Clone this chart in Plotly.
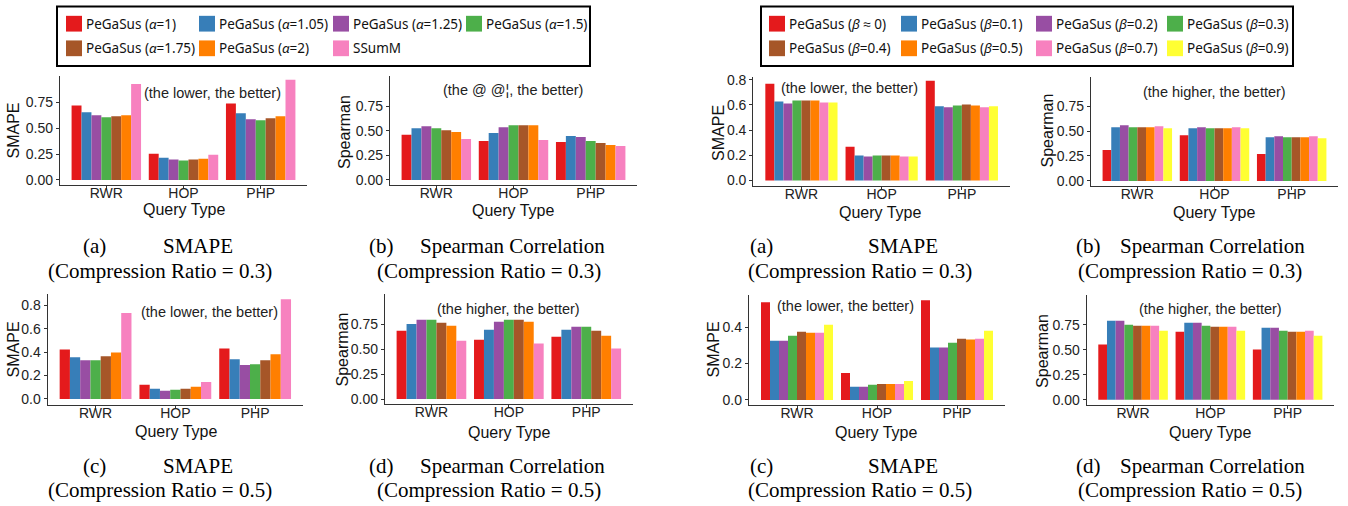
import plotly.graph_objects as go

W, H = 1348, 506

categories = ["RWR", "HOP", "PHP"]

# colours (ColorBrewer Set1)
alpha_colors = ["#E41A1C", "#377EB8", "#984EA3", "#4DAF4A", "#A65628", "#FF7F00", "#F781BF"]
beta_colors = ["#E41A1C", "#377EB8", "#984EA3", "#4DAF4A", "#A65628", "#FF7F00", "#F781BF", "#FFFF33"]

alpha_names = ["PeGaSus (<i>α</i>=1)", "PeGaSus (<i>α</i>=1.05)", "PeGaSus (<i>α</i>=1.25)",
               "PeGaSus (<i>α</i>=1.5)", "PeGaSus (<i>α</i>=1.75)", "PeGaSus (<i>α</i>=2)", "SSumM"]
beta_names = ["PeGaSus (<i>β</i> ≈ 0)", "PeGaSus (<i>β</i>=0.1)", "PeGaSus (<i>β</i>=0.2)",
              "PeGaSus (<i>β</i>=0.3)", "PeGaSus (<i>β</i>=0.4)", "PeGaSus (<i>β</i>=0.5)",
              "PeGaSus (<i>β</i>=0.7)", "PeGaSus (<i>β</i>=0.9)"]

# values per series, each [RWR, HOP, PHP]
smape_alpha_03 = [[0.72, 0.254, 0.74], [0.655, 0.216, 0.645], [0.626, 0.197, 0.588],
                  [0.607, 0.188, 0.578], [0.617, 0.197, 0.598], [0.626, 0.206, 0.617],
                  [0.93, 0.245, 0.97]]
spear_alpha_03 = [[0.458, 0.395, 0.385], [0.525, 0.475, 0.445], [0.545, 0.535, 0.435],
                  [0.525, 0.555, 0.395], [0.505, 0.555, 0.375], [0.485, 0.555, 0.355],
                  [0.415, 0.405, 0.345]]
smape_alpha_05 = [[0.424, 0.121, 0.432], [0.357, 0.087, 0.34], [0.331, 0.07, 0.29],
                  [0.331, 0.079, 0.298], [0.365, 0.087, 0.331], [0.398, 0.104, 0.382],
                  [0.735, 0.146, 0.853]]
spear_alpha_05 = [[0.687, 0.598, 0.627], [0.756, 0.697, 0.697], [0.797, 0.777, 0.727],
                  [0.797, 0.797, 0.727], [0.767, 0.797, 0.687], [0.737, 0.777, 0.637],
                  [0.588, 0.558, 0.508]]
smape_beta_03 = [[0.769, 0.268, 0.792], [0.627, 0.198, 0.589], [0.612, 0.19, 0.581],
                 [0.635, 0.198, 0.596], [0.635, 0.198, 0.604], [0.635, 0.198, 0.596],
                 [0.62, 0.19, 0.581], [0.62, 0.19, 0.589]]
spear_beta_03 = [[0.31, 0.458, 0.271], [0.538, 0.528, 0.439], [0.558, 0.538, 0.449],
                 [0.538, 0.528, 0.439], [0.538, 0.528, 0.439], [0.538, 0.528, 0.439],
                 [0.548, 0.538, 0.449], [0.528, 0.528, 0.429]]
smape_beta_05 = [[0.537, 0.148, 0.548], [0.326, 0.072, 0.288], [0.326, 0.072, 0.288],
                 [0.353, 0.083, 0.315], [0.375, 0.088, 0.337], [0.37, 0.088, 0.332],
                 [0.37, 0.088, 0.337], [0.413, 0.104, 0.38]]
spear_beta_05 = [[0.553, 0.68, 0.504], [0.79, 0.77, 0.72], [0.79, 0.77, 0.72],
                 [0.75, 0.74, 0.69], [0.74, 0.73, 0.68], [0.74, 0.73, 0.68],
                 [0.74, 0.73, 0.69], [0.69, 0.69, 0.64]]

hint_lower = "(the lower, the better)"
hint_higher = "(the higher, the better)"
hint_garbled = "(the @ @¦, the better)"

SANS = "Liberation Sans, Arial, sans-serif"
SERIF = "Liberation Serif, Times New Roman, serif"
LEG = "Noto Sans, sans-serif"


def px(x):
    return x / W


def py(y):
    return 1 - y / H


panels = [
    dict(data=smape_alpha_03, colors=alpha_colors, box=(60, 307, 72, 183), yr=[-0.05, 1.008],
         ticks=[0, 0.25, 0.5, 0.75], fmt="{:.2f}", yt="SMAPE", ytp=(13.5, 128), xtp=(184, 207),
         hint=hint_lower, hp=(213, 89)),
    dict(data=spear_alpha_03, colors=alpha_colors, box=(390, 637, 72, 183), yr=[-0.053, 1.056],
         ticks=[0, 0.25, 0.5, 0.75], fmt="{:.2f}", yt="Spearman", ytp=(345, 129), xtp=(513.5, 208),
         hint=hint_garbled, hp=(513, 86)),
    dict(data=smape_alpha_05, colors=alpha_colors, box=(47.7, 303, 294, 406), yr=[-0.048, 0.895],
         ticks=[0, 0.2, 0.4, 0.6, 0.8], fmt="{:.1f}", yt="SMAPE", ytp=(13, 350), xtp=(176, 432),
         hint=hint_lower, hp=(209, 312)),
    dict(data=spear_alpha_05, colors=alpha_colors, box=(385, 632.7, 294, 405.7), yr=[-0.053, 1.054],
         ticks=[0, 0.25, 0.5, 0.75], fmt="{:.2f}", yt="Spearman", ytp=(342, 350), xtp=(509, 433),
         hint=hint_higher, hp=(508, 309)),
    dict(data=smape_beta_03, colors=beta_colors, box=(753.3, 1010, 73.3, 184), yr=[-0.045, 0.821],
         ticks=[0, 0.2, 0.4, 0.6, 0.8], fmt="{:.1f}", yt="SMAPE", ytp=(719, 130), xtp=(881, 210),
         hint=hint_lower, hp=(850, 84)),
    dict(data=spear_beta_03, colors=beta_colors, box=(1091, 1338, 72.7, 184), yr=[-0.052, 1.047],
         ticks=[0, 0.25, 0.5, 0.75], fmt="{:.2f}", yt="Spearman", ytp=(1047.5, 128), xtp=(1214, 210),
         hint=hint_higher, hp=(1214.5, 88)),
    dict(data=smape_beta_05, colors=beta_colors, box=(749, 1005, 295, 406.3), yr=[-0.027, 0.575],
         ticks=[0, 0.2, 0.4], fmt="{:.1f}", yt="SMAPE", ytp=(713, 350), xtp=(876.5, 433),
         hint=hint_lower, hp=(845, 306)),
    dict(data=spear_beta_05, colors=beta_colors, box=(1086.7, 1334, 295, 406.3), yr=[-0.05, 1.044],
         ticks=[0, 0.25, 0.5, 0.75], fmt="{:.2f}", yt="Spearman", ytp=(1042.5, 352), xtp=(1210, 433),
         hint=hint_higher, hp=(1210, 309)),
]

fig = go.Figure()
layout = dict(
    width=W, height=H, margin=dict(l=0, r=0, t=0, b=0),
    paper_bgcolor="white", plot_bgcolor="white",
    barmode="group", bargap=0.1, bargroupgap=0,
    showlegend=False,
)
annotations = []
shapes = []
AX = "#333333"

for i, p in enumerate(panels):
    s = "" if i == 0 else str(i + 1)
    x0, x1, yt, yb = p["box"]
    for vals, col in zip(p["data"], p["colors"]):
        fig.add_trace(go.Bar(x=categories, y=vals, marker=dict(color=col, line=dict(width=0)),
                             xaxis="x" + s, yaxis="y" + s, showlegend=False))
    layout["xaxis" + s] = dict(domain=[px(x0), px(x1)], anchor="y" + s, type="category",
                               range=[-0.6, 2.6], showline=True, linecolor=AX, linewidth=1.3,
                               ticks="outside", ticklen=3, tickcolor=AX, showgrid=False,
                               zeroline=False, ticklabelstandoff=-8,
                               tickfont=dict(family=SANS, size=14, color="#222"))
    layout["yaxis" + s] = dict(domain=[py(yb), py(yt)], anchor="x" + s, range=p["yr"],
                               tickvals=p["ticks"], ticktext=[p["fmt"].format(t) for t in p["ticks"]],
                               showline=True, linecolor=AX, linewidth=1.3, ticks="outside",
                               ticklen=3, tickcolor=AX, showgrid=False, zeroline=False,
                               tickfont=dict(family=SANS, size=14, color="#222"))
    annotations.append(dict(text=p["yt"], x=px(p["ytp"][0]), y=py(p["ytp"][1]), xref="paper",
                            yref="paper", textangle=-90, showarrow=False,
                            font=dict(family=SANS, size=16, color="#111"),
                            xanchor="center", yanchor="middle"))
    annotations.append(dict(text="Query Type", x=px(p["xtp"][0]), y=py(p["xtp"][1] + 1), xref="paper",
                            yref="paper", showarrow=False,
                            font=dict(family=SANS, size=16, color="#111"),
                            xanchor="center", yanchor="middle"))
    annotations.append(dict(text=p["hint"], x=px(p["hp"][0]), y=py(p["hp"][1]), xref="paper",
                            yref="paper", showarrow=False,
                            font=dict(family=SANS, size=14.5, color="#222"),
                            xanchor="center", yanchor="middle"))

captions = [
    ("(a)", 94.5, "SMAPE", 198, 159.5, "0.3", 0),
    ("(b)", 381.7, "Spearman Correlation", 512.5, 489, "0.3", 0),
    ("(c)", 94.5, "SMAPE", 198, 159.5, "0.5", 223),
    ("(d)", 381.7, "Spearman Correlation", 512.5, 489, "0.5", 223),
    ("(a)", 761, "SMAPE", 903, 860, "0.3", 0),
    ("(b)", 1088, "Spearman Correlation", 1212, 1190, "0.3", 0),
    ("(c)", 761, "SMAPE", 903, 860, "0.5", 223),
    ("(d)", 1088, "Spearman Correlation", 1212, 1190, "0.5", 223),
]
for lab, lx, title, tx, l2x, ratio, dy in captions:
    f = dict(family=SERIF, size=21, color="black")
    annotations.append(dict(text=lab, x=px(lx), y=py(245 + dy), xref="paper", yref="paper",
                            showarrow=False, font=f, xanchor="center", yanchor="middle"))
    annotations.append(dict(text=title, x=px(tx), y=py(245 + dy), xref="paper", yref="paper",
                            showarrow=False, font=f, xanchor="center", yanchor="middle"))
    annotations.append(dict(text="(Compression Ratio = " + ratio + ")", x=px(l2x), y=py(270 + dy),
                            xref="paper", yref="paper", showarrow=False, font=f,
                            xanchor="center", yanchor="middle"))

legends = [
    dict(names=alpha_names, colors=alpha_colors, box=(57, 590), cols=[66, 199, 333, 466]),
    dict(names=beta_names, colors=beta_colors, box=(761, 1293), cols=[769, 901, 1036, 1167]),
]
rows_y = [19, 44]
for lg in legends:
    bx0, bx1 = lg["box"]
    shapes.append(dict(type="rect", xref="paper", yref="paper", x0=px(bx0), x1=px(bx1),
                       y0=py(62), y1=py(1.5), line=dict(color="black", width=2),
                       fillcolor="rgba(0,0,0,0)"))
    for k, (nm, col) in enumerate(zip(lg["names"], lg["colors"])):
        r, c = divmod(k, 4)
        sx = lg["cols"][c]
        cy = rows_y[r]
        shapes.append(dict(type="rect", xref="paper", yref="paper", x0=px(sx), x1=px(sx + 16),
                           y0=py(cy + 8), y1=py(cy - 8), line=dict(width=0), fillcolor=col))
        annotations.append(dict(text=nm, x=px(sx + 18), y=py(cy), xref="paper", yref="paper",
                                showarrow=False, xanchor="left", yanchor="middle",
                                font=dict(family=LEG, size=13.5, color="#111")))

layout["annotations"] = annotations
layout["shapes"] = shapes
fig.update_layout(**layout)
fig.write_html("out.html")
